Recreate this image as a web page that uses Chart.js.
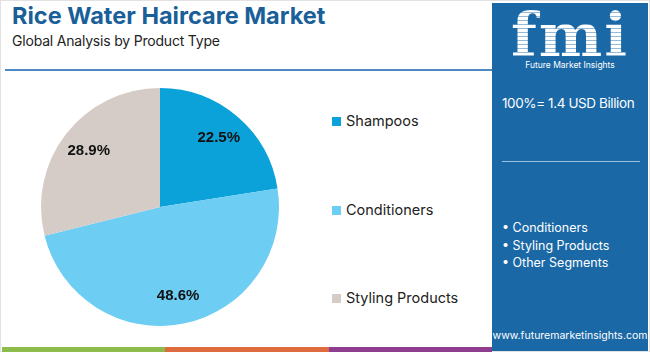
<!DOCTYPE html>
<html>
<head>
<meta charset="utf-8">
<script src="https://cdn.jsdelivr.net/npm/chart.js@4/dist/chart.umd.min.js"></script>
<style>
  body { margin: 0; width: 650px; height: 352px; overflow: hidden; background: #fff; font-family: "Open Sans", sans-serif; }
  #frame { position: absolute; left: 0; top: 0; width: 648px; height: 350px; border: 1px solid #e2e2e2; }
  #title { position: absolute; left: 12px; top: 1px; font: 700 23.5px Inter, sans-serif; color: #1a5f98; letter-spacing: 0px; }
  #sub { position: absolute; left: 12px; top: 32px; font: 400 14px Inter, sans-serif; color: #222; letter-spacing: -0.2px; }
  #rule { position: absolute; left: 5px; top: 69px; width: 490px; height: 2px; background: #4f89c2; }
  #pieBox { position: absolute; left: 40px; top: 87px; width: 240px; height: 240px; }
  #legend { position: absolute; left: 332px; top: 0; }
  .leg { position: absolute; white-space: nowrap; font: 400 14.5px Inter, sans-serif; color: #222; }
  .leg i { display: inline-block; width: 9px; height: 9px; margin-right: 5px; vertical-align: 0px; }
  #panel { position: absolute; left: 492px; top: 3px; width: 156px; height: 348px; background: #1a68a6; color: #fff; }
  #logo { position: absolute; left: 0; top: 2px; width: 156px; text-align: center; font: 900 60px "DejaVu Serif", serif; line-height: 60px; letter-spacing: 2px;
          color: transparent; background: repeating-linear-gradient(#fff 0 3px, rgba(255,255,255,0.55) 3px 4px); -webkit-background-clip: text; background-clip: text; }
  #fmiName { position: absolute; left: 0; top: 57px; width: 156px; text-align: center; font: 400 8.5px Inter, sans-serif; }
  #total { position: absolute; left: 10px; top: 92px; font: 400 13.5px Inter, sans-serif; letter-spacing: -0.4px; }
  #prule { position: absolute; left: 10px; top: 158px; width: 138px; height: 1px; background: #9cc3e3; }
  #bul { position: absolute; left: 10px; top: 216px; font: 400 12.5px Inter, sans-serif; line-height: 17.5px; }
  #web { position: absolute; left: 0; top: 326px; width: 156px; text-align: center; font: 400 10.5px Inter, sans-serif; }
  #bar { position: absolute; left: 2px; top: 347px; height: 5px; width: 490px; display: flex; }
  #bar div { flex: 1; }
</style>
</head>
<body>
<div id="frame"></div>
<div id="title">Rice Water Haircare Market</div>
<div id="sub">Global Analysis by Product Type</div>
<div id="rule"></div>
<div id="pieBox"><canvas id="pie"></canvas></div>
<div id="legend"></div>
<div id="panel">
  <div id="logo">fmi</div>
  <div id="fmiName">Future Market Insights</div>
  <div id="total">100%= 1.4 USD Billion</div>
  <div id="prule"></div>
  <div id="bul">• Conditioners<br>• Styling Products<br>• Other Segments</div>
  <div id="web">www.futuremarketinsights.com</div>
</div>
<div id="bar"><div style="background:#8dbb4c"></div><div style="background:#dd6b3d"></div><div style="background:#8e3d8f"></div></div>
<script>
const categories = ["Shampoos", "Conditioners", "Styling Products"];
const shares = [22.5, 48.6, 28.9];
const colors = ['#0aa2d8', '#6dcdf2', '#d5ccc8'];
const legendTops = [112, 201, 289];

// html legend, spaced like the reference
const legendEl = document.getElementById('legend');
categories.forEach((c, i) => {
  const d = document.createElement('div');
  d.className = 'leg';
  d.style.top = legendTops[i] + 'px';
  d.innerHTML = '<i style="background:' + colors[i] + '"></i>' + c;
  legendEl.appendChild(d);
});

const pctLabels = {
  id: 'pctLabels',
  afterDatasetsDraw(chart) {
    const ctx = chart.ctx;
    const meta = chart.getDatasetMeta(0);
    ctx.save();
    ctx.font = 'bold 15px "Liberation Sans", Arial, sans-serif';
    ctx.fillStyle = '#111';
    ctx.textAlign = 'center';
    ctx.textBaseline = 'middle';
    meta.data.forEach((arc, i) => {
      const p = arc.getProps(['x', 'y', 'startAngle', 'endAngle', 'outerRadius']);
      const mid = (p.startAngle + p.endAngle) / 2;
      const r = p.outerRadius * 0.76;
      ctx.fillText(shares[i].toFixed(1) + '%', p.x + Math.cos(mid) * r, p.y + Math.sin(mid) * r);
    });
    ctx.restore();
  }
};

new Chart(document.getElementById('pie').getContext('2d'), {
  type: 'pie',
  data: {
    labels: categories,
    datasets: [{
      data: shares,
      backgroundColor: colors,
      borderWidth: 0
    }]
  },
  options: {
    responsive: true,
    maintainAspectRatio: false,
    animation: false,
    layout: { padding: 1 },
    plugins: {
      legend: { display: false },
      tooltip: { enabled: false }
    }
  },
  plugins: [pctLabels]
});
</script>
</body>
</html>
